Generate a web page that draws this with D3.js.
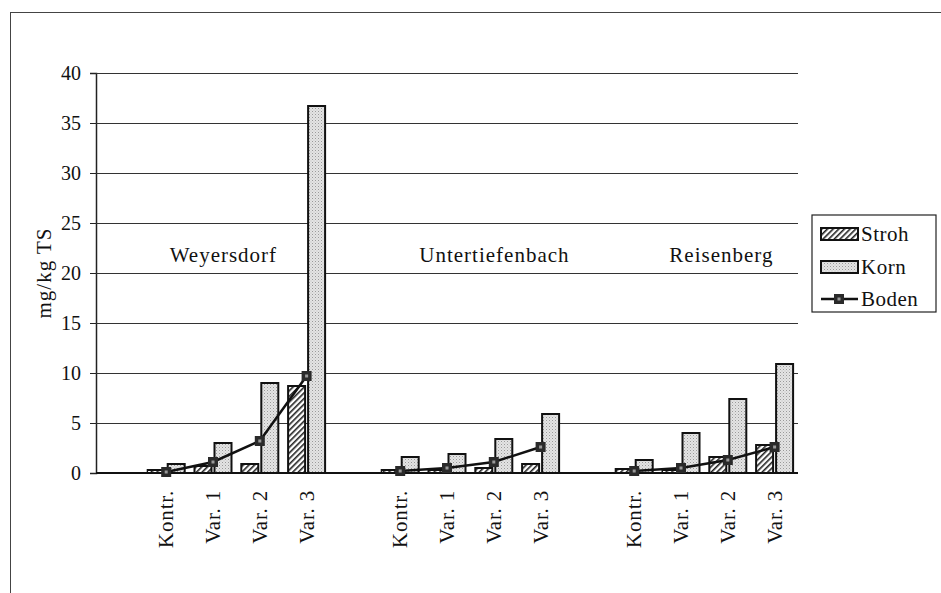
<!DOCTYPE html>
<html>
  <head>
    <meta charset="UTF-8">
    <title>mg/kg TS</title>
    <style>
      body { margin: 0; background: #fff; }
      text { font-family: 'Liberation Serif', 'DejaVu Serif', serif; fill: #111; }
    </style>
  </head>
  <body>
    <div id='chart'></div>
    <script src='https://d3js.org/d3.v7.min.js'></script>
    <script>

      const sites = ['Weyersdorf', 'Untertiefenbach', 'Reisenberg'];
      const variants = ['Kontr.', 'Var. 1', 'Var. 2', 'Var. 3'];
      const seriesNames = ['Stroh', 'Korn'];
      const stroh = [[0.3, 0.7, 0.9, 8.7], [0.3, 0.3, 0.5, 0.9], [0.4, 0.3, 1.6, 2.8]];
      const korn = [[0.9, 3.0, 9.0, 36.7], [1.6, 1.9, 3.4, 5.9], [1.3, 4.0, 7.4, 10.9]];
      const boden = [[0.1, 1.1, 3.2, 9.7], [0.2, 0.5, 1.1, 2.6], [0.2, 0.5, 1.3, 2.6]];
      const yTicks = [0, 5, 10, 15, 20, 25, 30, 35, 40];

      const width = 941;
      const height = 593;
      const margin = { top: 73, right: 143, bottom: 120, left: 96 };
      // the site names sit as loose text boxes, a bit off the group centres
      const siteLabelShift = [-13, 24, 17];
      const siteLabelY = 262;

      // one empty slot in front of every site
      const slots = [];
      sites.forEach((s, i) => {
        slots.push(`gap${i}`);
        variants.forEach((v) => slots.push(`${s}|${v}`));
      });

      const svg = d3.select('#chart')
        .append('svg')
        .attr('width', width)
        .attr('height', height);

      const defs = svg.append('defs');

      const hatch = defs.append('pattern')
        .attr('id', 'hatch')
        .attr('patternUnits', 'userSpaceOnUse')
        .attr('width', 4)
        .attr('height', 4)
        .attr('patternTransform', 'rotate(45)');
      hatch.append('rect').attr('width', 4).attr('height', 4).attr('fill', '#fff');
      hatch.append('rect').attr('width', 1.6).attr('height', 4).attr('fill', '#222');

      const dots = defs.append('pattern')
        .attr('id', 'dots')
        .attr('patternUnits', 'userSpaceOnUse')
        .attr('width', 3)
        .attr('height', 3);
      dots.append('rect').attr('width', 3).attr('height', 3).attr('fill', '#e4e4e4');
      dots.append('rect').attr('width', 1).attr('height', 1).attr('fill', '#9a9a9a');
      dots.append('rect').attr('x', 1.5).attr('y', 1.5).attr('width', 1).attr('height', 1).attr('fill', '#bdbdbd');

      const fills = { Stroh: 'url(#hatch)', Korn: 'url(#dots)' };

      // outer frame
      svg.append('rect')
        .attr('x', 10.5)
        .attr('y', 12.5)
        .attr('width', 940)
        .attr('height', 590)
        .attr('fill', 'none')
        .attr('stroke', '#444')
        .attr('stroke-width', 1);

      const x = d3.scaleBand()
        .domain(slots)
        .range([margin.left, width - margin.right]);

      const xSeries = d3.scaleBand()
        .domain(seriesNames)
        .range([0, x.bandwidth()])
        .paddingInner(0.15)
        .paddingOuter(0.245);

      const y = d3.scaleLinear()
        .domain([0, 40])
        .range([height - margin.bottom, margin.top]);

      // gridlines + y axis
      svg.append('g')
        .attr('transform', `translate(${margin.left},0)`)
        .call(d3.axisLeft(y)
          .tickValues(yTicks)
          .tickSize(6)
          .tickPadding(9))
        .call((g) => g.select('.domain').attr('stroke', '#222').attr('stroke-width', 1.5))
        .call((g) => g.selectAll('.tick line').attr('stroke', '#222'))
        .call((g) => g.selectAll('.tick text').attr('font-size', 20).attr('dy', '0.34em'))
        .call((g) => g.selectAll('.tick').append('line')
          .attr('x2', width - margin.right - margin.left)
          .attr('stroke', '#333')
          .attr('stroke-width', 1.2));

      svg.append('text')
        .attr('transform', `translate(51,${y(20)}) rotate(-90)`)
        .attr('text-anchor', 'middle')
        .attr('font-size', 21)
        .attr('letter-spacing', 1)
        .text('mg/kg TS');

      // bars
      const barData = [];
      sites.forEach((s, i) => {
        variants.forEach((v, j) => {
          barData.push({ slot: `${s}|${v}`, series: 'Stroh', value: stroh[i][j] });
          barData.push({ slot: `${s}|${v}`, series: 'Korn', value: korn[i][j] });
        });
      });

      svg.append('g')
        .selectAll('rect')
        .data(barData)
        .enter().append('rect')
        .attr('x', (d) => x(d.slot) + xSeries(d.series))
        .attr('y', (d) => y(d.value))
        .attr('width', xSeries.bandwidth())
        .attr('height', (d) => y(0) - y(d.value))
        .attr('fill', (d) => fills[d.series])
        .attr('stroke', '#111')
        .attr('stroke-width', 2);

      // x axis line
      svg.append('line')
        .attr('x1', margin.left)
        .attr('x2', width - margin.right)
        .attr('y1', y(0))
        .attr('y2', y(0))
        .attr('stroke', '#111')
        .attr('stroke-width', 2);

      // Boden line, one piece per site
      const line = d3.line()
        .x((d) => x(d.slot) + x.bandwidth() / 2)
        .y((d) => y(d.value));

      const bodenData = sites.map((s, i) => variants.map((v, j) => ({ slot: `${s}|${v}`, value: boden[i][j] })));

      svg.append('g')
        .selectAll('path')
        .data(bodenData)
        .enter().append('path')
        .attr('d', line)
        .attr('fill', 'none')
        .attr('stroke', '#111')
        .attr('stroke-width', 2.5);

      const marker = (sel) => {
        sel.append('rect')
          .attr('x', -5).attr('y', -5)
          .attr('width', 10).attr('height', 10)
          .attr('fill', '#2a2a2a');
        sel.append('rect')
          .attr('x', -1.5).attr('y', -1.5)
          .attr('width', 3).attr('height', 3)
          .attr('fill', '#999');
      };

      svg.append('g')
        .selectAll('g')
        .data(bodenData.flat())
        .enter().append('g')
        .attr('transform', (d) => `translate(${x(d.slot) + x.bandwidth() / 2},${y(d.value)})`)
        .call(marker);

      // category labels
      svg.append('g')
        .selectAll('text')
        .data(slots.filter((s) => !s.startsWith('gap')))
        .enter().append('text')
        .attr('transform', (d) => `translate(${x(d) + x.bandwidth() / 2 + 7},${y(0) + 17}) rotate(-90)`)
        .attr('text-anchor', 'end')
        .attr('font-size', 21)
        .attr('letter-spacing', 0.8)
        .text((d) => d.split('|')[1]);

      // site names
      svg.append('g')
        .selectAll('text')
        .data(sites)
        .enter().append('text')
        .attr('x', (d, i) => (x(`${d}|Kontr.`) + x(`${d}|Var. 3`) + x.bandwidth()) / 2 + siteLabelShift[i])
        .attr('y', siteLabelY)
        .attr('text-anchor', 'middle')
        .attr('font-size', 21)
        .attr('letter-spacing', 1)
        .text((d) => d);

      // legend
      const legend = svg.append('g').attr('transform', 'translate(812,215)');
      legend.append('rect')
        .attr('width', 124)
        .attr('height', 97)
        .attr('fill', '#fff')
        .attr('stroke', '#222')
        .attr('stroke-width', 1.2);

      seriesNames.forEach((s, i) => {
        legend.append('rect')
          .attr('x', 9).attr('y', 13 + i * 33)
          .attr('width', 37).attr('height', 12)
          .attr('fill', fills[s])
          .attr('stroke', '#111')
          .attr('stroke-width', 2);
        legend.append('text')
          .attr('x', 49).attr('y', 26 + i * 33)
          .attr('font-size', 21)
          .attr('letter-spacing', 0.5)
          .text(s);
      });

      const bodenRow = legend.append('g').attr('transform', 'translate(0,84)');
      bodenRow.append('line')
        .attr('x1', 9).attr('x2', 46)
        .attr('stroke', '#111')
        .attr('stroke-width', 2.5);
      bodenRow.append('g').attr('transform', 'translate(27,0)').call(marker);
      legend.append('text')
        .attr('x', 49).attr('y', 91)
        .attr('font-size', 21)
        .attr('letter-spacing', 0.5)
        .text('Boden');

    </script>
  </body>
</html>
